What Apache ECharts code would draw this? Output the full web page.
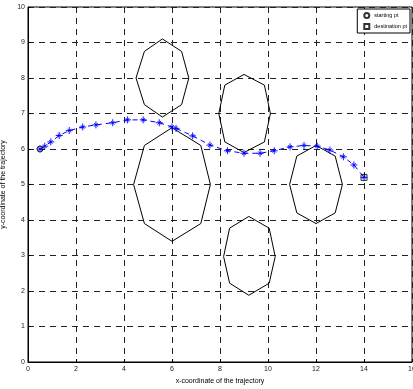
<!DOCTYPE html>
<html>
<head>
<meta charset="utf-8">
<script src="https://cdn.jsdelivr.net/npm/echarts@6/dist/echarts.min.js"></script>
<style>
  html, body { margin: 0; padding: 0; background: #fff; }
  #chart { width: 413px; height: 389px; }
</style>
</head>
<body>
<div id="chart"></div>
<script>
// trajectory points
var trajX = [0.5, 0.7, 0.95, 1.3, 1.72, 2.28, 2.83, 3.53, 4.15, 4.8, 5.47, 6.0, 6.17, 6.86, 7.58, 8.31, 9.0, 9.67, 10.26, 10.92, 11.5, 12.05, 12.58, 13.14, 13.58, 14.0];
var trajY = [6.0, 6.08, 6.2, 6.38, 6.52, 6.62, 6.68, 6.74, 6.82, 6.82, 6.74, 6.62, 6.58, 6.37, 6.11, 5.95, 5.88, 5.88, 5.95, 6.06, 6.1, 6.08, 5.97, 5.78, 5.55, 5.2];

var startPt = [0.5, 6.0];
var destPt = [14.0, 5.2];

// obstacles (octagon vertices)
var obsTopLeft = [[5.6, 9.1], [6.4, 8.75], [6.7, 8], [6.4, 7.25], [5.6, 6.9], [4.85, 7.25], [4.5, 8], [4.85, 8.75], [5.6, 9.1]];
var obsBig = [[6, 6.6], [7.2, 6.1], [7.6, 5], [7.2, 3.9], [6, 3.4], [4.85, 3.9], [4.4, 5], [4.85, 6.1], [6, 6.6]];
var obsTopMid = [[9, 8.1], [9.85, 7.8], [10.1, 7], [9.85, 6.2], [9, 5.9], [8.2, 6.2], [7.95, 7], [8.2, 7.8], [9, 8.1]];
var obsBottom = [[9.2, 4.1], [10.05, 3.77], [10.3, 2.97], [10.05, 2.22], [9.2, 1.88], [8.4, 2.22], [8.15, 2.97], [8.4, 3.77], [9.2, 4.1]];
var obsRight = [[12, 6.1], [12.8, 5.8], [13.1, 5], [12.8, 4.2], [12, 3.9], [11.2, 4.2], [10.9, 5], [11.2, 5.8], [12, 6.1]];

var font = '"Liberation Sans Narrow", "Liberation Sans", Arial, sans-serif';
var myChart = echarts.init(document.getElementById('chart'));

function obstacle(pts) {
    return {
        type: 'line',
        data: pts,
        showSymbol: false,
        silent: true,
        lineStyle: { color: '#000', width: 1 },
        z: 3
    };
}

var traj = trajX.map(function (x, i) { return [x, trajY[i]]; });

var option = {
    animation: false,
    grid: {
        left: 28, right: 1, top: 7, bottom: 27,
        outerBoundsMode: 'none',
        containLabel: false,
        show: true, borderColor: '#000', borderWidth: 1
    },
    legend: {
        right: 3, top: 9,
        orient: 'vertical',
        backgroundColor: '#fff',
        borderColor: '#000', borderWidth: 1,
        padding: [3, 3, 3, 6],
        itemGap: 4,
        itemWidth: 5, itemHeight: 5,
        textStyle: { fontSize: 5.5, fontFamily: font, color: '#000' },
        data: ['starting pt', 'destination pt']
    },
    xAxis: {
        type: 'value', min: 0, max: 16, interval: 2,
        name: 'x-coordinate of the trajectory',
        nameLocation: 'middle', nameGap: 12,
        nameTextStyle: { fontSize: 7, fontFamily: font, color: '#000' },
        axisLine: { lineStyle: { color: '#000', width: 1 } },
        axisTick: { inside: true, length: 3, lineStyle: { color: '#000' } },
        axisLabel: { fontSize: 7, fontFamily: font, color: '#222', margin: 4, showMaxLabel: true },
        splitLine: { show: true, lineStyle: { color: '#222', type: [6, 5], width: 1 } }
    },
    yAxis: {
        type: 'value', min: 0, max: 10, interval: 1,
        name: 'y-coordinate of the trajectory',
        nameLocation: 'middle', nameGap: 11, nameRotate: 90,
        nameTextStyle: { fontSize: 7, fontFamily: font, color: '#000' },
        axisLine: { show: true, lineStyle: { color: '#000', width: 1 } },
        axisTick: { show: true, inside: true, length: 3, lineStyle: { color: '#000' } },
        axisLabel: { fontSize: 7, fontFamily: font, color: '#222', margin: 3 },
        splitLine: { show: true, lineStyle: { color: '#222', type: [6, 5], width: 1 } }
    },
    series: [
        obstacle(obsTopLeft),
        obstacle(obsBig),
        obstacle(obsTopMid),
        obstacle(obsBottom),
        obstacle(obsRight),
        {
            name: 'trajectory',
            type: 'line',
            data: traj,
            symbol: 'path://M0,-5L0,5M-5,0L5,0M-2.5,-2.5L2.5,2.5M-2.5,2.5L2.5,-2.5',
            symbolSize: 7,
            itemStyle: { color: 'rgba(0,0,0,0)', borderColor: '#0000ff', borderWidth: 0.9 },
            lineStyle: { color: '#0000ff', width: 1, type: [5, 4] },
            z: 4
        },
        {
            name: 'starting pt',
            type: 'scatter',
            data: [startPt],
            symbol: 'circle',
            symbolSize: 6,
            itemStyle: { color: 'rgba(0,0,0,0)', borderColor: '#000', borderWidth: 1 },
            z: 5
        },
        {
            name: 'destination pt',
            type: 'scatter',
            data: [destPt],
            symbol: 'rect',
            symbolSize: 6,
            itemStyle: { color: 'rgba(0,0,0,0)', borderColor: '#000', borderWidth: 1 },
            z: 5
        }
    ]
};
myChart.setOption(option);
</script>
</body>
</html>
